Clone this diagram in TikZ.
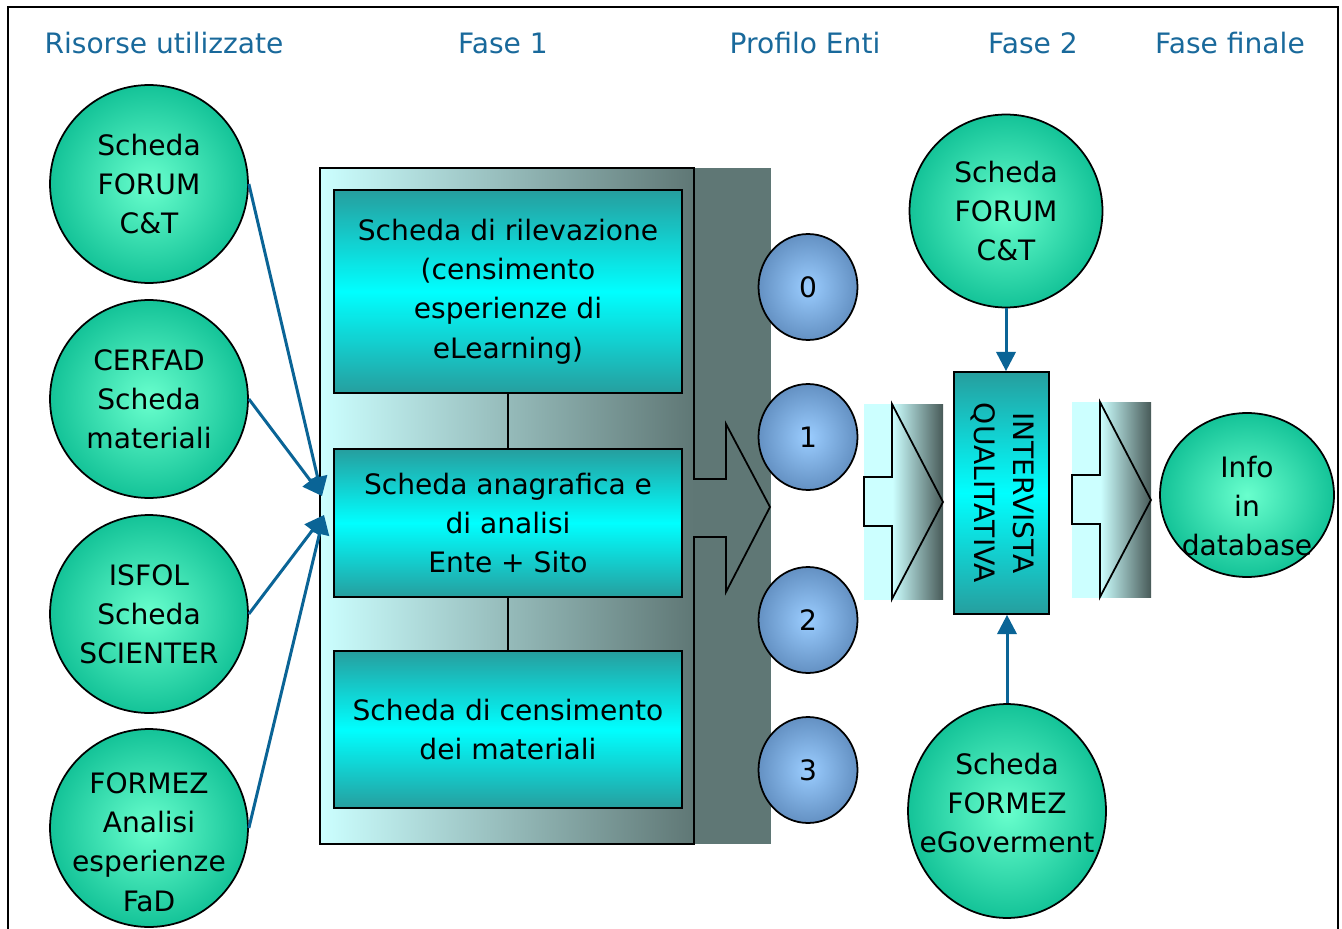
\documentclass[tikz,border=0pt]{standalone}
\usepackage{fontspec}
\usepackage{graphicx}
\setmainfont{DejaVu Sans}
\usetikzlibrary{arrows.meta,shapes.geometric}

\definecolor{titleblue}{RGB}{25,105,155}
\definecolor{arrowblue}{RGB}{10,100,150}
\definecolor{bubbleout}{RGB}{20,195,152}
\definecolor{bubblein}{RGB}{105,255,205}
\definecolor{dotout}{RGB}{100,145,195}
\definecolor{dotin}{RGB}{155,205,255}
\definecolor{boxteal}{RGB}{38,158,158}
\definecolor{boxcyan}{RGB}{0,255,255}
\definecolor{panellight}{RGB}{204,255,255}
\definecolor{paneldark}{RGB}{95,119,117}
\definecolor{arrowdark}{RGB}{72,90,88}

\pgfdeclarehorizontalshading{fadearrow}{100bp}{color(0bp)=(panellight); color(25bp)=(panellight); color(43bp)=(panellight); color(75bp)=(arrowdark); color(100bp)=(arrowdark)}

\begin{document}
\begin{tikzpicture}
  [x=0.02cm,y=-0.02cm,
   every node/.style={font=\fontsize{16}{22.3}\selectfont,align=center},
   title/.style={text=titleblue},
   bubble/.style={circle,draw,line width=1pt,inner sep=0pt,minimum size=3.96cm,inner color=bubblein,outer color=bubbleout},
   dot/.style={ellipse,draw,line width=1pt,inner sep=0pt,minimum width=1.98cm,minimum height=2.12cm,inner color=dotin,outer color=dotout},
   card/.style={rectangle,draw,line width=1pt,top color=boxteal,bottom color=boxteal,middle color=boxcyan},
   flow/.style={draw=arrowblue,line width=1.7pt,-{Triangle[length=11pt,width=11pt]}}]
  \useasboundingbox (0,0) rectangle (1342,929);
  \draw[line width=1.2pt] (8,7) rectangle (1338,945);

  % headings
  \node[title] (h1) at (164,43) {Risorse utilizzate};
  \node[title] (h2) at (503,43) {Fase 1};
  \node[title] (h3) at (805,43) {Profilo Enti};
  \node[title] (h4) at (1033,43) {Fase 2};
  \node[title] (h5) at (1230,43) {Fase finale};

  % risorse
  \node[bubble] (r1) at (149,184) {Scheda\\FORUM\\C\&T};
  \node[bubble] (r2) at (149,399) {CERFAD\\Scheda\\materiali};
  \node[bubble] (r3) at (149,614) {ISFOL\\Scheda\\SCIENTER};
  \node[bubble] (r4) at (149,828) {};
  \node (r4t) at (149,842) {FORMEZ\\Analisi\\esperienze\\FaD};

  % fase 1
  \fill[paneldark] (694,168) rectangle (771,844);
  \shade[left color=panellight,right color=paneldark] (320,168) rectangle (694,844);
  \draw[line width=1pt] (320,168) -- (694,168) -- (694,479) -- (726,479) -- (726,424)
    -- (770,507) -- (726,592) -- (726,537) -- (694,537) -- (694,844) -- (320,844) -- cycle;
  \node[card,minimum width=6.96cm,minimum height=4.06cm] (b1) at (508,291.5)
    {Scheda di rilevazione\\(censimento\\esperienze di\\eLearning)};
  \node[card,minimum width=6.96cm,minimum height=2.96cm] (b2) at (508,523)
    {Scheda anagrafica e\\di analisi\\Ente + Sito};
  \node[card,minimum width=6.96cm,minimum height=3.14cm] (b3) at (508,729.5)
    {Scheda di censimento\\dei materiali};
  \draw[line width=1pt] (b1) -- (b2) (b2) -- (b3);

  \coordinate (tipA) at (322,496);
  \coordinate (tipB) at (324,515);
  \foreach \from/\to in {r1/tipA,r2/tipA,r3/tipB,r4/tipB}
    \draw[flow] (\from.east) -- (\to);

  % profilo enti
  \foreach \n/\y in {0/287,1/437,2/620,3/770}
    \node[dot] (p\n) at (808,\y) {\n};

  % fase 2
  \foreach \ax/\ay in {864/404,1072/402}{
    \shade[shading=fadearrow] (\ax,\ay) rectangle ++(79,195);
    \draw[line width=1pt] (\ax,\ay+73) -- ++(28,0) -- ++(0,-73) -- ++(51,98)
      -- ++(-51,97) -- ++(0,-73) -- ++(-28,0) -- cycle;
  }
  \node[card,minimum width=1.9cm,minimum height=4.84cm] (iq) at (1001.5,493)
    {\rotatebox{-90}{\begin{tabular}{@{}c@{}}INTERVISTA\\QUALITATIVA\end{tabular}}};
  \node[bubble,minimum size=3.86cm] (fc) at (1006,211) {Scheda\\FORUM\\C\&T};
  \node[bubble,ellipse,minimum width=3.96cm,minimum height=4.28cm] (fe) at (1007,811) {};
  \node (fet) at (1007,803) {Scheda\\FORMEZ\\eGoverment};
  \draw[flow] (fc) -- (fc |- iq.north);
  \draw[flow] (fe) -- (fe |- iq.south);

  % fase finale
  \node[bubble,ellipse,minimum width=3.48cm,minimum height=3.28cm] (db) at (1247,495) {};
  \node (dbt) at (1247,506) {Info\\in\\database};

\end{tikzpicture}
\end{document}
